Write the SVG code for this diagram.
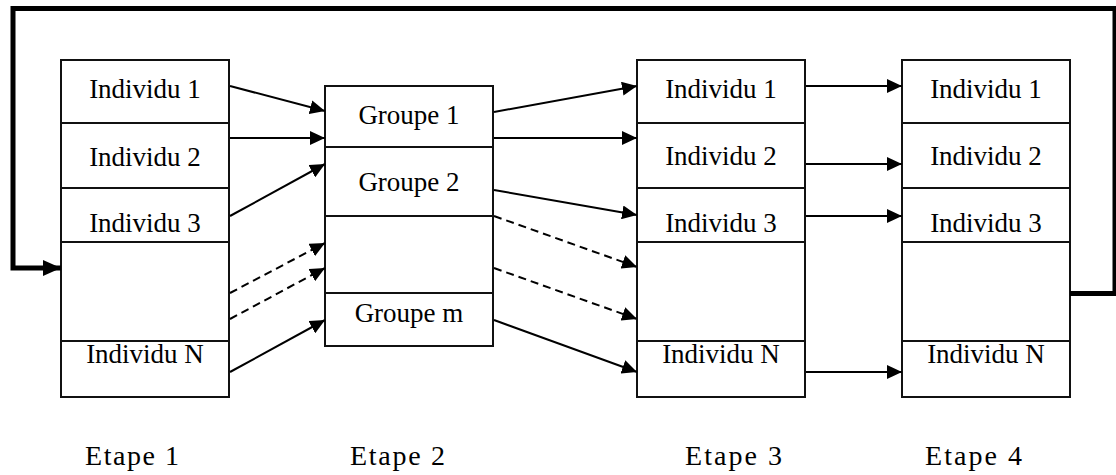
<svg xmlns="http://www.w3.org/2000/svg" width="1116" height="475" viewBox="0 0 1116 475">
  <style>
    .cell { fill: #ffffff; stroke: #111111; stroke-width: 2; }
    .lbl { font-family: "Liberation Serif", "Times New Roman", serif; font-size: 27px; fill: #000000; text-anchor: middle; }
    .step { font-family: "Liberation Serif", "Times New Roman", serif; font-size: 28px; fill: #000000; }
    .arr { fill: none; stroke: #000000; stroke-width: 2; marker-end: url(#ah); }
    .dash { stroke-dasharray: 8 5; }
    .loop { fill: none; stroke: #000000; stroke-width: 5; stroke-linejoin: miter; marker-end: url(#ahBig); }
  </style>
  <defs>
    <marker id="ah" markerUnits="userSpaceOnUse" markerWidth="16" markerHeight="14" refX="15" refY="7" orient="auto">
      <path d="M0,0 L15,7 L0,14 z" fill="#000000" stroke="none"/>
    </marker>
    <marker id="ahBig" markerUnits="userSpaceOnUse" markerWidth="19" markerHeight="17" refX="18" refY="8" orient="auto">
      <path d="M0,0 L18,8 L0,16 z" fill="#000000" stroke="none"/>
    </marker>
  </defs>
  <rect width="1116" height="475" fill="#ffffff"/>

  <g id="stage1">
    <rect class="cell" x="61" y="60" width="168" height="63"/>
    <rect class="cell" x="61" y="123" width="168" height="65"/>
    <rect class="cell" x="61" y="188" width="168" height="54"/>
    <rect class="cell" x="61" y="242" width="168" height="99"/>
    <rect class="cell" x="61" y="341" width="168" height="56"/>
    <text class="lbl" x="145" y="98">Individu 1</text>
    <text class="lbl" x="145" y="166">Individu 2</text>
    <text class="lbl" x="145" y="232">Individu 3</text>
    <text class="lbl" x="145" y="363">Individu N</text>
  </g>

  <g id="stage2">
    <rect class="cell" x="325" y="86" width="168" height="61"/>
    <rect class="cell" x="325" y="147" width="168" height="69"/>
    <rect class="cell" x="325" y="216" width="168" height="77"/>
    <rect class="cell" x="325" y="293" width="168" height="53"/>
    <text class="lbl" x="409" y="124">Groupe 1</text>
    <text class="lbl" x="409" y="191">Groupe 2</text>
    <text class="lbl" x="409" y="322">Groupe m</text>
  </g>

  <g id="stage3">
    <rect class="cell" x="637" y="60" width="168" height="63"/>
    <rect class="cell" x="637" y="123" width="168" height="65"/>
    <rect class="cell" x="637" y="188" width="168" height="54"/>
    <rect class="cell" x="637" y="242" width="168" height="99"/>
    <rect class="cell" x="637" y="341" width="168" height="56"/>
    <text class="lbl" x="721" y="98">Individu 1</text>
    <text class="lbl" x="721" y="165">Individu 2</text>
    <text class="lbl" x="721" y="232">Individu 3</text>
    <text class="lbl" x="721" y="363">Individu N</text>
  </g>

  <g id="stage4">
    <rect class="cell" x="902" y="60" width="168" height="63"/>
    <rect class="cell" x="902" y="123" width="168" height="65"/>
    <rect class="cell" x="902" y="188" width="168" height="54"/>
    <rect class="cell" x="902" y="242" width="168" height="99"/>
    <rect class="cell" x="902" y="341" width="168" height="56"/>
    <text class="lbl" x="986" y="98">Individu 1</text>
    <text class="lbl" x="986" y="165">Individu 2</text>
    <text class="lbl" x="986" y="232">Individu 3</text>
    <text class="lbl" x="986" y="363">Individu N</text>
  </g>

  <g id="connectors">
    <path class="arr" d="M230,86 L325,111"/>
    <path class="arr" d="M230,138 L325,138"/>
    <path class="arr" d="M230,216 L325,164"/>
    <path class="arr dash" d="M230,293 L325,243"/>
    <path class="arr dash" d="M230,319 L325,268"/>
    <path class="arr" d="M230,372 L325,320"/>
    <path class="arr" d="M494,112 L637,86"/>
    <path class="arr" d="M494,138 L637,138"/>
    <path class="arr" d="M494,190 L637,215"/>
    <path class="arr dash" d="M494,216 L637,267"/>
    <path class="arr dash" d="M494,268 L637,319"/>
    <path class="arr" d="M494,320 L637,372"/>
    <path class="arr" d="M806,86 L902,86"/>
    <path class="arr" d="M806,164 L902,164"/>
    <path class="arr" d="M806,216 L902,216"/>
    <path class="arr" d="M806,372 L902,372"/>
    <path class="loop" d="M1070,293.5 H1115 V8.5 H13 V268 H61"/>
  </g>

  <g id="steps">
    <text class="step" x="85" y="465" textLength="94" lengthAdjust="spacing">Etape 1</text>
    <text class="step" x="350" y="465" textLength="95" lengthAdjust="spacing">Etape 2</text>
    <text class="step" x="685" y="465" textLength="97" lengthAdjust="spacing">Etape 3</text>
    <text class="step" x="925" y="465" textLength="97" lengthAdjust="spacing">Etape 4</text>
  </g>
</svg>
